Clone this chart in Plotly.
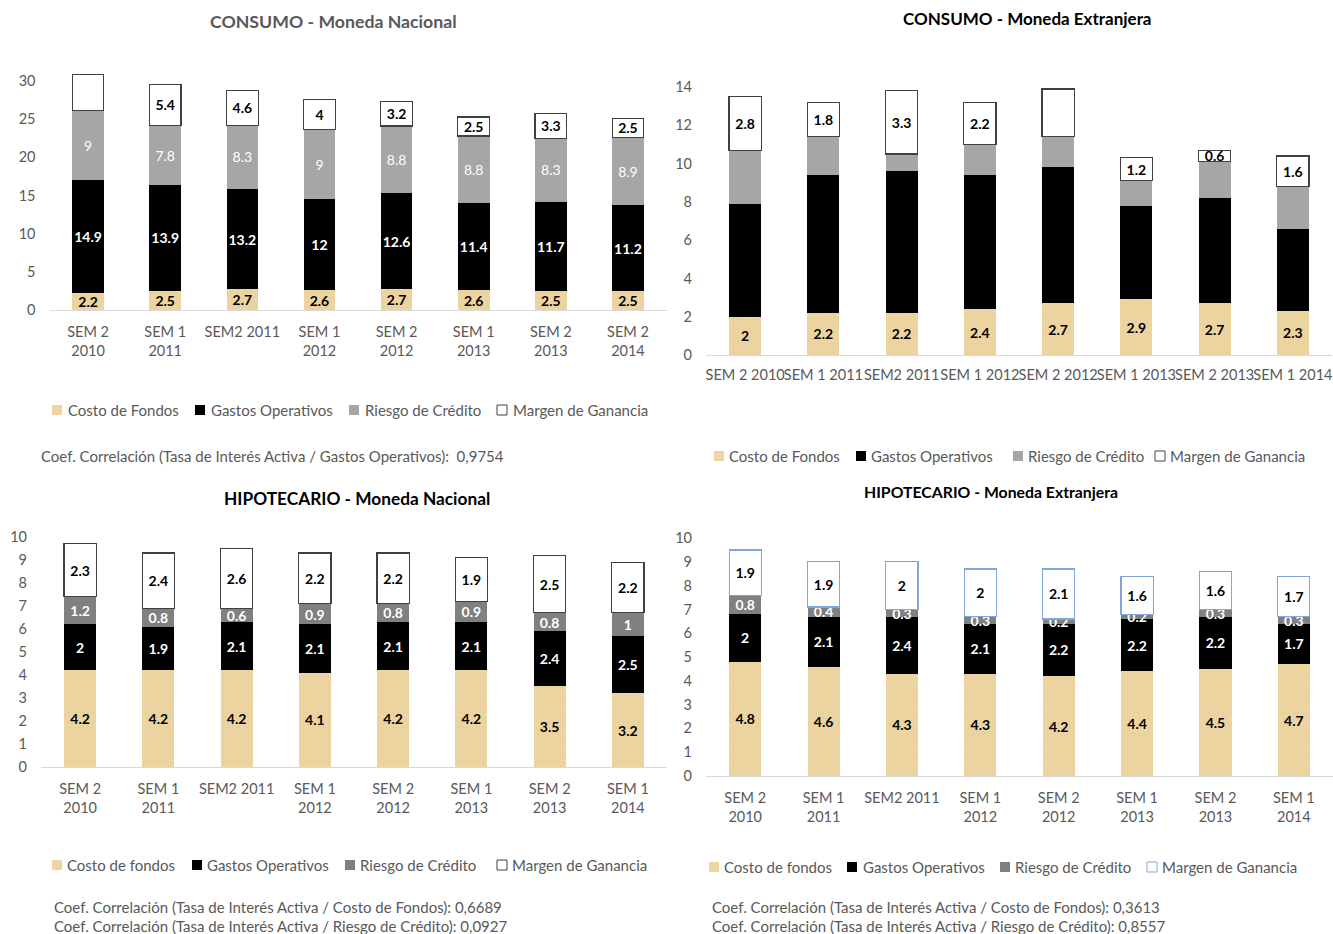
import plotly.graph_objects as go

# ---- categories ----
cats_cmn = ["SEM 2<br>2010", "SEM 1<br>2011", "SEM2 2011", "SEM 1<br>2012",
            "SEM 2<br>2012", "SEM 1<br>2013", "SEM 2<br>2013", "SEM 2<br>2014"]
cats_cme = ["SEM 2 2010", "SEM 1 2011", "SEM2 2011", "SEM 1 2012",
            "SEM 2 2012", "SEM 1 2013", "SEM 2 2013", "SEM 1 2014"]
cats_hip = ["SEM 2<br>2010", "SEM 1<br>2011", "SEM2 2011", "SEM 1<br>2012",
            "SEM 2<br>2012", "SEM 1<br>2013", "SEM 2<br>2013", "SEM 1<br>2014"]

# ---- CONSUMO - Moneda Nacional ----
cmn_costo = [2.2, 2.5, 2.7, 2.6, 2.7, 2.6, 2.5, 2.5]
cmn_gastos = [14.9, 13.9, 13.2, 12, 12.6, 11.4, 11.7, 11.2]
cmn_riesgo = [9, 7.8, 8.3, 9, 8.8, 8.8, 8.3, 8.9]
cmn_margen = [4.8, 5.4, 4.6, 4, 3.2, 2.5, 3.3, 2.5]
cmn_margen_lbl = [False, True, True, True, True, True, True, True]

# ---- CONSUMO - Moneda Extranjera ----
cme_costo = [2, 2.2, 2.2, 2.4, 2.7, 2.9, 2.7, 2.3]
cme_gastos = [5.9, 7.2, 7.4, 7.0, 7.1, 4.9, 5.5, 4.3]
cme_riesgo = [2.8, 2.0, 0.9, 1.6, 1.6, 1.3, 1.9, 2.2]
cme_margen = [2.8, 1.8, 3.3, 2.2, 2.5, 1.2, 0.6, 1.6]
cme_margen_lbl = [True, True, True, True, False, True, True, True]

# ---- HIPOTECARIO - Moneda Nacional ----
hmn_costo = [4.2, 4.2, 4.2, 4.1, 4.2, 4.2, 3.5, 3.2]
hmn_gastos = [2, 1.9, 2.1, 2.1, 2.1, 2.1, 2.4, 2.5]
hmn_riesgo = [1.2, 0.8, 0.6, 0.9, 0.8, 0.9, 0.8, 1]
hmn_margen = [2.3, 2.4, 2.6, 2.2, 2.2, 1.9, 2.5, 2.2]

# ---- HIPOTECARIO - Moneda Extranjera ----
hme_costo = [4.8, 4.6, 4.3, 4.3, 4.2, 4.4, 4.5, 4.7]
hme_gastos = [2, 2.1, 2.4, 2.1, 2.2, 2.2, 2.2, 1.7]
hme_riesgo = [0.8, 0.4, 0.3, 0.3, 0.2, 0.2, 0.3, 0.3]
hme_margen = [1.9, 1.9, 2, 2, 2.1, 1.6, 1.6, 1.7]

names_a = ["Costo de Fondos", "Gastos Operativos", "Riesgo de Crédito", "Margen de Ganancia"]
names_b = ["Costo de fondos", "Gastos Operativos", "Riesgo de Crédito", "Margen de Ganancia"]

W, H = 1333, 934
FONT = "Lato, 'Liberation Sans', sans-serif"
TXT = "#595959"
TAN = "#EDD5A2"
TAN_FG = "#D8BC86"
GRAY_LIGHT = "#A6A6A6"
GRAY_DARK = "#808080"
EDGE_DARK = "#404040"
EDGE_BLUE = "#7FA7DB"


def px_x(p):
    return min(max(p / W, 0.0), 1.0)


def px_y(p):
    return min(max(1 - p / H, 0.0), 1.0)


def lbl(vals, mask=None):
    if mask is None:
        mask = [True] * len(vals)
    return [f"{v:g}" if m else "" for v, m in zip(vals, mask)]


fig = go.Figure()


def add_chart(n, cats, costo, gastos, riesgo, margen, names, riesgo_color,
              margen_line, show_mid=True, margen_mask=None, riesgo_bold=True):
    xa = "x" if n == 1 else f"x{n}"
    ya = "y" if n == 1 else f"y{n}"
    common = dict(xaxis=xa, yaxis=ya, showlegend=False, textposition="inside",
                  insidetextanchor="middle", constraintext="none", textangle=0,
                  hoverinfo="x+y+name")
    fig.add_trace(go.Bar(
        x=cats, y=costo, name=names[0], text=lbl(costo),
        marker=dict(color=TAN, line=dict(width=0),
                    pattern=dict(shape="+", fgcolor=TAN_FG, bgcolor=TAN,
                                 size=5, solidity=0.12)),
        textfont=dict(family=FONT, size=14, color="black", weight="bold"),
        **common))
    fig.add_trace(go.Bar(
        x=cats, y=gastos, name=names[1],
        text=lbl(gastos) if show_mid else None,
        marker=dict(color="black", line=dict(width=0)),
        textfont=dict(family=FONT, size=14, color="white", weight="bold"),
        **common))
    fig.add_trace(go.Bar(
        x=cats, y=riesgo, name=names[2],
        text=lbl(riesgo) if show_mid else None,
        marker=dict(color=riesgo_color, line=dict(width=0)),
        textfont=dict(family=FONT, size=14, color="white",
                      weight="bold" if riesgo_bold else "normal"),
        **common))
    fig.add_trace(go.Bar(
        x=cats, y=margen, name=names[3], text=lbl(margen, margen_mask),
        marker=dict(color="white", line=dict(color=margen_line, width=1.2)),
        textfont=dict(family=FONT, size=14, color="black", weight="bold"),
        **common))


add_chart(1, cats_cmn, cmn_costo, cmn_gastos, cmn_riesgo, cmn_margen, names_a,
          GRAY_LIGHT, EDGE_DARK, margen_mask=cmn_margen_lbl, riesgo_bold=False)
add_chart(2, cats_cme, cme_costo, cme_gastos, cme_riesgo, cme_margen, names_a,
          GRAY_LIGHT, EDGE_DARK, show_mid=False, margen_mask=cme_margen_lbl)
add_chart(3, cats_hip, hmn_costo, hmn_gastos, hmn_riesgo, hmn_margen, names_b,
          GRAY_DARK, EDGE_DARK)
add_chart(4, cats_hip, hme_costo, hme_gastos, hme_riesgo, hme_margen, names_b,
          GRAY_DARK, EDGE_BLUE)

tickfont = dict(family=FONT, size=14.5, color=TXT)
xcommon = dict(showline=True, linecolor="#D9D9D9", linewidth=1, showgrid=False,
               ticks="", tickfont=tickfont, fixedrange=True, tickangle=0,
               automargin=False, ticklabelstandoff=9)
ycommon = dict(showline=False, showgrid=False, zeroline=False, ticks="",
               tickfont=tickfont, fixedrange=True, automargin=False,
               ticklabelstandoff=13)

layout_axes = {
    # CONSUMO MN
    "xaxis": dict(domain=[px_x(49.5), px_x(666.5)], anchor="y", **xcommon),
    "yaxis": dict(domain=[px_y(310), px_y(69.6)], anchor="x", range=[0, 31.5],
                  tickvals=[0, 5, 10, 15, 20, 25, 30], **ycommon),
    # CONSUMO ME
    "xaxis2": dict(domain=[px_x(706), px_x(1332)], anchor="y2", **xcommon),
    "yaxis2": dict(domain=[px_y(355), px_y(81.3)], anchor="x2", range=[0, 14.3],
                   tickvals=list(range(0, 15, 2)), **ycommon),
    # HIPOTECARIO MN
    "xaxis3": dict(domain=[px_x(41), px_x(667)], anchor="y3", **xcommon),
    "yaxis3": dict(domain=[px_y(767), px_y(530.1)], anchor="x3", range=[0, 10.3],
                   tickvals=list(range(0, 11)), **ycommon),
    # HIPOTECARIO ME
    "xaxis4": dict(domain=[px_x(706), px_x(1333)], anchor="y4", **xcommon),
    "yaxis4": dict(domain=[px_y(776), px_y(530.9)], anchor="x4", range=[0, 10.3],
                   tickvals=list(range(0, 11)), **ycommon),
}
layout_axes["xaxis2"]["ticklabelstandoff"] = 7

# legend keys: (fill, edge) per series, for each panel
keys_cm = [(TAN, None), ("black", None), (GRAY_LIGHT, None), ("white", EDGE_DARK)]
keys_hmn = [(TAN, None), ("black", None), (GRAY_DARK, None), ("white", EDGE_DARK)]
keys_hme = [(TAN, None), ("black", None), (GRAY_DARK, None), ("white", EDGE_BLUE)]

# legend rows: names, keys, left edge of each key, left edge of each label, row y
legend_rows = [
    (names_a, keys_cm, [52, 195, 349, 497], [66, 209, 363, 511], 410),
    (names_a, keys_cm, [714, 856, 1013, 1155], [727, 869, 1026, 1168], 456),
    (names_b, keys_hmn, [52, 192, 345, 497], [65, 205, 358, 510], 865),
    (names_b, keys_hme, [709, 847, 1000, 1147], [722, 861, 1013, 1160], 867),
]

shapes = []
annotations = []
KEY = 10
for names, keys, kx, tx, yc in legend_rows:
    for name, (fill, edge), k, t in zip(names, keys, kx, tx):
        shapes.append(dict(type="rect", xref="paper", yref="paper",
                           x0=px_x(k), x1=px_x(k + KEY),
                           y0=px_y(yc + KEY / 2), y1=px_y(yc - KEY / 2),
                           fillcolor=fill,
                           line=dict(color=edge or fill, width=1 if edge else 0)))
        annotations.append(dict(text=name, x=px_x(t), y=px_y(yc), xref="paper",
                                yref="paper", xanchor="left", yanchor="middle",
                                showarrow=False,
                                font=dict(family=FONT, size=15, color=TXT)))

titles = [
    ("CONSUMO - Moneda Nacional", 333, 22, TXT, 17.7),
    ("CONSUMO - Moneda Extranjera", 1027, 18, "#000000", 17),
    ("HIPOTECARIO - Moneda Nacional", 357, 498, "#000000", 17.3),
    ("HIPOTECARIO - Moneda Extranjera", 991, 491, "#000000", 15.8),
]
notes = [
    ("Coef. Correlación (Tasa de Interés Activa / Gastos Operativos):  0,9754", 39, 456),
    ("Coef. Correlación (Tasa de Interés Activa / Costo de Fondos): 0,6689", 52, 907),
    ("Coef. Correlación (Tasa de Interés Activa / Riesgo de Crédito): 0,0927", 52, 926),
    ("Coef. Correlación (Tasa de Interés Activa / Costo de Fondos): 0,3613", 710, 907),
    ("Coef. Correlación (Tasa de Interés Activa / Riesgo de Crédito): 0,8557", 710, 926),
]

for t, xp, yp, c, sz in titles:
    annotations.append(dict(text=f"<b>{t}</b>", x=px_x(xp), y=px_y(yp), xref="paper",
                            yref="paper", xanchor="center", yanchor="middle",
                            showarrow=False,
                            font=dict(family=FONT, size=sz, color=c)))
for t, xp, yp in notes:
    annotations.append(dict(text=t, x=px_x(xp), y=px_y(yp), xref="paper",
                            yref="paper", xanchor="left", yanchor="middle",
                            showarrow=False,
                            font=dict(family=FONT, size=15, color=TXT)))

fig.update_layout(
    width=W, height=H, autosize=False,
    margin=dict(l=0, r=0, t=0, b=0),
    paper_bgcolor="white", plot_bgcolor="white",
    barmode="stack", bargap=0.59,
    font=dict(family=FONT, size=14, color=TXT),
    showlegend=False,
    shapes=shapes,
    annotations=annotations,
    **layout_axes,
)

fig.write_html("out.html", config={"displayModeBar": False})
